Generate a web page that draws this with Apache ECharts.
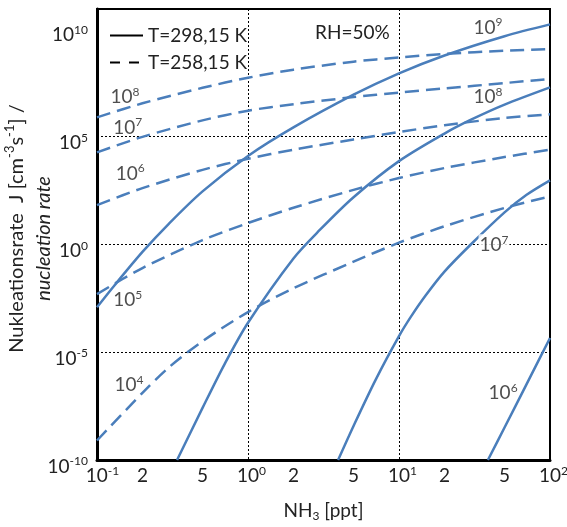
<!DOCTYPE html>
<html><head><meta charset="utf-8">
<script src="https://cdn.jsdelivr.net/npm/echarts@6/dist/echarts.min.js"></script>
<style>html,body{margin:0;padding:0;background:#fff}#c{width:567px;height:527px}</style>
</head><body><div id="c"></div>
<script>
// ---- tick labels / gridlines ----
const xTickLabels = [0.1, 0.2, 0.5, 1, 2, 5, 10, 20, 50, 100];
const yTickLabels = [1e-10, 1e-5, 1, 1e5, 1e10];
const xGridValues = [1, 10];
const yGridValues = [1e-5, 1, 1e5];

// ---- T = 298,15 K (solid), [NH3 ppt, J cm-3 s-1], H2SO4 = 1e9 .. 1e6 ----
const warm1e9 = [[0.1,1.2e-3],[0.13,1.2e-2],[0.2,0.44],[0.3,9.1],[0.5,282],[1,1.23e4],[2,2.6e5],[5,8.5e6],[10,8.3e7],[20,5.6e8],[50,4.4e9],[100,1.55e10]];
const warm1e8 = [[0.339,1e-10],[0.5,2.6e-8],[0.7,2.8e-6],[1,2.3e-4],[2,0.22],[3,4.7],[5,151],[10,7.1e3],[20,1.35e5],[30,5.9e5],[50,2.95e6],[100,1.86e7]];
const warm1e7 = [[3.95,1e-10],[5,3.8e-9],[7,5.2e-7],[10,5.5e-5],[12,4.4e-4],[15,4.2e-3],[20,0.054],[30,1.0],[50,30],[70,195],[100,912]];
const warm1e6 = [[38.8,1e-10],[50,3.2e-9],[70,3.3e-7],[100,4.5e-5]];

// ---- T = 258,15 K (dashed), H2SO4 = 1e8 .. 1e4 ----
const cold1e8 = [[0.1,7.6e5],[0.2,3.4e6],[0.5,1.78e7],[1,5.2e7],[2,1.23e8],[5,2.9e8],[10,4.5e8],[20,6.6e8],[50,9.3e8],[100,1.12e9]];
const cold1e7 = [[0.1,1.8e4],[0.2,9.5e4],[0.5,5.5e5],[1,1.55e6],[2,3.1e6],[5,6.6e6],[10,1.07e7],[20,1.66e7],[50,2.95e7],[100,4.6e7]];
const cold1e6 = [[0.1,65],[0.2,398],[0.5,2.8e3],[1,9.1e3],[2,2.4e4],[5,7.2e4],[10,1.58e5],[20,3.3e5],[50,7.1e5],[100,1.05e6]];
const cold1e5 = [[0.1,4.9e-3],[0.2,0.079],[0.5,1.55],[1,9.6],[2,49],[5,331],[10,1.17e3],[20,3.4e3],[50,1.1e4],[100,2.4e4]];
const cold1e4 = [[0.1,8e-10],[0.2,1.29e-7],[0.3,2.0e-6],[0.5,3.2e-5],[1,7.2e-4],[2,9.1e-3],[5,0.155],[10,1.18],[20,6.8],[50,48],[100,166]];

// ---- curve annotations (H2SO4 exponent) in data coordinates ----
const curveLabelX = [0.153, 0.16, 0.166, 0.16, 0.163, 38.8, 38.8, 42.6, 48.9];
const curveLabelY = [6.5e6, 2.6e5, 1.9e3, 2.6e-3, 2.9e-7, 1.1e10, 6.5e6, 0.9, 1.26e-7];
const curveLabelExp = ['8', '7', '6', '5', '4', '9', '8', '7', '6'];
const curveLabelBoxed = [false, false, false, false, false, false, false, true, false];

const legendNames = ['T=298,15 K', 'T=258,15 K'];

const FONT = 'Lato';
const BLUE = '#4a7ebb';
const TXT = '#222';
const supRich = {
  b: {fontSize: 19, fontFamily: FONT, color: TXT, lineHeight: 22},
  s: {fontSize: 12, fontFamily: FONT, color: TXT, verticalAlign: 'top', lineHeight: 12},
  g1: {fontSize: 12, width: 7, lineHeight: 12},
  g2: {fontSize: 12, width: 11, lineHeight: 12},
  g3: {fontSize: 12, width: 14, lineHeight: 12}
};
function expOf(v) { return Math.round(Math.log10(v)); }
function isPow10(v) { const e = Math.log10(v); return Math.abs(e - Math.round(e)) < 1e-6; }

const solid = (name, data) => ({name, type: 'line', data, symbol: 'none', smooth: 0.3,
  lineStyle: {color: BLUE, width: 2.5}, z: 3, silent: true});
const dashed = (name, data) => ({name, type: 'line', data, symbol: 'none', smooth: 0.3,
  lineStyle: {color: BLUE, width: 2.5, type: [14, 7]}, z: 3, silent: true});

const chart = echarts.init(document.getElementById('c'));
chart.setOption({
  animation: false,
  backgroundColor: '#fff',
  grid: {left: 97, right: 17, top: 9, bottom: 67, outerBoundsMode: 'none', containLabel: false,
    show: true, borderColor: '#000', borderWidth: 2, backgroundColor: 'transparent'},
  legend: {
    data: legendNames, orient: 'vertical', left: 104, top: 21, itemWidth: 33, itemHeight: 20, itemGap: 8,
    textStyle: {fontSize: 19, fontFamily: FONT, color: TXT},
    itemStyle: {opacity: 0}, selectedMode: false
  },
  xAxis: {
    type: 'log', logBase: 10, min: 0.1, max: 100,
    name: '{t|NH}{u|3}{t| [ppt]}', nameLocation: 'middle', nameGap: 40, nameMoveOverlap: false,
    nameTextStyle: {rich: {t: {fontSize: 19, fontFamily: FONT, color: TXT, lineHeight: 22},
      u: {fontSize: 12, fontFamily: FONT, color: TXT, verticalAlign: 'bottom', lineHeight: 12}}},
    axisLine: {show: true, lineStyle: {color: '#000', width: 3}},
    axisTick: {show: false, customValues: xGridValues},
    splitLine: {show: true, lineStyle: {color: '#000', width: 1, type: [2, 2]}},
    axisLabel: {
      customValues: xTickLabels, margin: 5, rich: supRich,
      formatter: v => {
        if (isPow10(v)) { const e = String(expOf(v)); return '{g' + e.length + '| }{b|10}{s|' + e + '}'; }
        return '{b|' + Math.round(v / Math.pow(10, Math.floor(Math.log10(v) + 1e-9))) + '}';
      }
    }
  },
  yAxis: {
    type: 'log', logBase: 10, min: 1e-10, max: 8e10,
    name: '{sp1| }{n|Nukleationsrate  J [cm}{ns|-3}{n|s}{ns|-1}{n|] /}\n{it|nucleation rate}{sp2| }',
    nameLocation: 'middle', nameRotate: 90, nameGap: 40, nameMoveOverlap: false,
    nameTextStyle: {rich: {
      n: {fontSize: 20, fontFamily: FONT, color: TXT, lineHeight: 27},
      ns: {fontSize: 13, fontFamily: FONT, color: TXT, verticalAlign: 'top', lineHeight: 14},
      it: {fontSize: 20, fontFamily: FONT, fontStyle: 'italic', color: TXT, lineHeight: 27},
      sp1: {fontSize: 12, width: 12, lineHeight: 27},
      sp2: {fontSize: 12, width: 8, lineHeight: 27}
    }},
    axisLine: {show: true, lineStyle: {color: '#000', width: 3}},
    axisTick: {show: false, customValues: yGridValues},
    splitLine: {show: true, lineStyle: {color: '#000', width: 1, type: [2, 2]}},
    axisLabel: {
      customValues: yTickLabels, margin: 9, padding: [13, 0, 0, 0], rich: supRich,
      formatter: v => '{b|10}{s|' + expOf(v) + '}'
    }
  },
  graphic: [{type: 'text', left: 315, top: 23, silent: true,
    style: {text: 'RH=50%', font: '19px Lato', fill: TXT}}],
  series: [
    {name: legendNames[0], type: 'line', data: [], symbol: 'none', lineStyle: {color: '#000', width: 2.5}, itemStyle: {color: '#000'}},
    {name: legendNames[1], type: 'line', data: [], symbol: 'none', lineStyle: {color: '#000', width: 2.5, type: [10, 9]}, itemStyle: {color: '#000'}},
    solid('warm 1e9', warm1e9),
    solid('warm 1e8', warm1e8),
    solid('warm 1e7', warm1e7),
    solid('warm 1e6', warm1e6),
    dashed('cold 1e8', cold1e8),
    dashed('cold 1e7', cold1e7),
    dashed('cold 1e6', cold1e6),
    dashed('cold 1e5', cold1e5),
    dashed('cold 1e4', cold1e4),
    {
      name: 'labels', type: 'scatter', symbolSize: 0, silent: true, z: 6,
      data: curveLabelX.map((x, i) => ({
        value: [x, curveLabelY[i]], name: curveLabelExp[i],
        label: curveLabelBoxed[i] ? {backgroundColor: '#fff', padding: [0, 1]} : {}
      })),
      label: {show: true, position: 'inside', rich: supRich, formatter: p => '{b|10}{s|' + p.name + '}'}
    }
  ]
});
</script></body></html>
